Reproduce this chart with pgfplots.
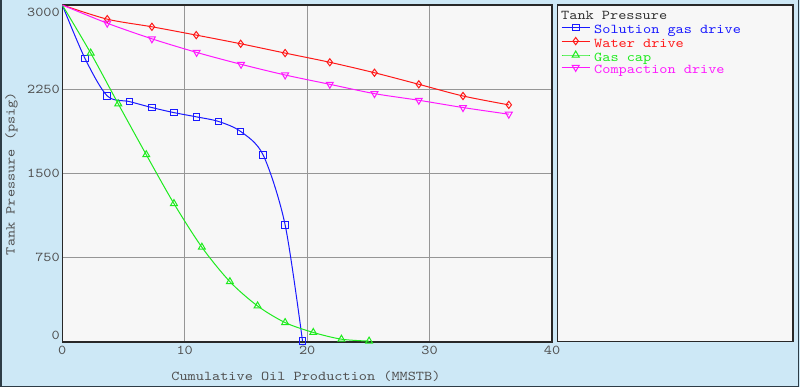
\documentclass[border=0pt]{standalone}
\usepackage{pgfplots}
\pgfplotsset{compat=1.18}
\usepackage{fontspec}
\setmainfont{Liberation Mono}
\newfontfamily\cfont{lmmono10-regular.otf}[FakeStretch=1.15]
\definecolor{bgblue}{RGB}{205,232,246}
\definecolor{plotbg}{RGB}{247,247,247}
\definecolor{gridc}{RGB}{150,150,150}
\definecolor{framec}{RGB}{40,40,40}
\definecolor{outerc}{RGB}{45,60,70}
\definecolor{sblue}{RGB}{25,25,255}
\definecolor{sred}{RGB}{255,25,25}
\definecolor{sgreen}{RGB}{30,235,30}
\definecolor{smag}{RGB}{255,25,255}
\definecolor{txt}{RGB}{80,80,80}
\definecolor{titlec}{RGB}{50,50,50}
\newcommand{\chfont}{\cfont\fontsize{13.5bp}{15bp}\selectfont}
\begin{document}
\begin{tikzpicture}
\fill[bgblue] (0,0) rectangle (800bp,387bp);
\path[use as bounding box] (0,0) rectangle (800bp,387bp);
\draw[outerc, line width=1.5bp] (0.75bp,387bp) -- (0.75bp,0.75bp) -- (798.5bp,0.75bp) -- (798.5bp,387bp);
% legend panel
\draw[framec, fill=plotbg, line width=1.3bp] (557.7bp,45.3bp) rectangle (793bp,382bp);
\node[anchor=base west, inner sep=0pt, font=\chfont, text=titlec] at (561bp,367.7bp) {Tank Pressure};
\begin{axis}[
  at={(62.3bp,45bp)}, anchor=south west, scale only axis,
  width=489.7bp, height=337bp,
  xmin=0, xmax=40, ymin=0, ymax=3000,
  xtick={0,10,20,30,40}, ytick={0,750,1500,2250,3000},
  grid=major, major grid style={gridc, line width=1.2bp},
  axis line style={framec, line width=1.3bp},
  axis background/.style={fill=plotbg},
  major tick length=0pt, tick style={draw=none},
  ticklabel style={font=\chfont, text=txt},
  /pgf/number format/assume math mode=true,
  /pgf/number format/1000 sep={},
  xticklabel style={anchor=north, inner sep=0pt, yshift=-4.3bp},
  yticklabel style={anchor=east, inner sep=0pt, xshift=-2.3bp, yshift={(\ticknum==0)*6.3-(\ticknum==4)*7.5}},
  xlabel={Cumulative Oil Production (MMSTB)},
  ylabel={Tank Pressure (psig)},
  every axis x label/.style={at={(axis description cs:0.4975,-0.1024)}, anchor=center, inner sep=0pt, font=\chfont, text=txt},
  every axis y label/.style={at={(axis description cs:-0.1037,0.5)}, rotate=90, anchor=center, inner sep=0pt, font=\chfont, text=txt},
  clip mode=individual,
  legend image code/.code={\draw[mark repeat=2,mark phase=2,#1] plot coordinates {(0bp,3.7bp) (14bp,3.7bp) (28bp,3.7bp)};},
  legend style={at={(1.0184,0.9433)}, anchor=north west, draw=none, fill=none, inner sep=0pt,
    row sep=0pt, column sep=4bp, font=\chfont,
    nodes={inner sep=0pt, text height=8.6bp, text depth=3.8bp}},
  legend cell align=left,
  every axis plot/.append style={line width=1bp, smooth, mark options={solid}},
]
\addplot[forget plot, sblue, mark=square, mark size=3.3bp, mark indices={2,3,4,5,6,7,8,9,10,11,12}] coordinates {
(0,3000) (1.85,2525) (3.67,2191) (5.5,2140) (7.32,2087) (9.12,2042) (10.97,2004) (12.77,1963) (14.57,1874) (16.41,1664) (18.2,1043) (19.62,10)};
\addplot[forget plot, sred, mark=diamond, mark size=3.6bp, mark indices={2,3,4,5,6,7,8,9,10,11,12}] coordinates {
(0,3000) (3.67,2874) (7.32,2806) (10.94,2732) (14.57,2655) (18.2,2572) (21.85,2490) (25.5,2397) (29.12,2294) (32.73,2190) (36.47,2111)};
\addplot[forget plot, sgreen, mark=triangle, mark size=4bp, mark indices={2,3,4,5,6,7,8,9,10,11,12}] coordinates {
(0,3000) (2.32,2572) (4.57,2120) (6.86,1667) (9.12,1232) (11.4,844) (13.69,537) (15.95,321) (18.2,173) (20.5,85) (22.8,25) (25.06,8)};
\addplot[forget plot, smag, mark=triangle, mark size=4bp, mark options={rotate=180}, mark indices={2,3,4,5,6,7,8,9,10,11,12}] coordinates {
(0,3000) (3.67,2838) (7.32,2699) (10.97,2578) (14.6,2472) (18.2,2377) (21.85,2294) (25.5,2211) (29.12,2152) (32.73,2087) (36.47,2028)};
\addlegendimage{sblue, line width=1bp, mark=square, mark size=3.3bp, mark options={solid}}
\addlegendentry[text=sblue]{Solution gas drive}
\addlegendimage{sred, line width=1bp, mark=diamond, mark size=3.6bp, mark options={solid}}
\addlegendentry[text=sred]{Water drive}
\addlegendimage{sgreen, line width=1bp, mark=triangle, mark size=4bp, mark options={solid}}
\addlegendentry[text=sgreen]{Gas cap}
\addlegendimage{smag, line width=1bp, mark=triangle, mark size=4bp, mark options={solid,rotate=180}}
\addlegendentry[text=smag]{Compaction drive}
\end{axis}
\end{tikzpicture}
\end{document}
